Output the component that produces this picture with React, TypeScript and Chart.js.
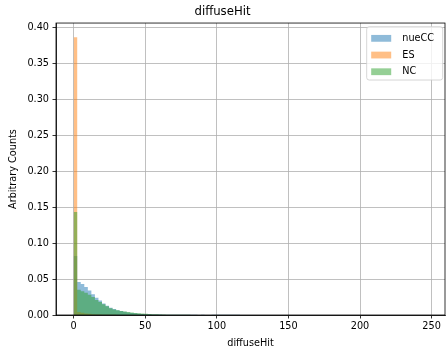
import React, { useEffect, useRef } from "react";
import { Chart, registerables } from "chart.js";

Chart.register(...registerables);

// Histogram of diffuseHit, normalised per sample (density), 2.47-wide bins from 0.
const chartTitle = "diffuseHit";
const xLabel = "diffuseHit";
const yLabel = "Arbitrary Counts";
const seriesNames = ["nueCC", "ES", "NC"];
const binStart = 0;
const binWidth = 2.47;

const nueCC = [
  0.082, 0.046, 0.043, 0.039, 0.034, 0.029, 0.024, 0.02, 0.016, 0.013,
  0.0102, 0.0082, 0.0066, 0.0054, 0.0044, 0.0036, 0.0029, 0.0024, 0.0019, 0.0015,
  0.0012, 0.001, 0.0008, 0.0007, 0.0006, 0.0005, 0.0004, 0.0004, 0.0003, 0.0003,
  0.0003, 0.0002, 0.0002, 0.0002, 0.0002, 0.0001, 0.0002, 0.0001, 0.0001, 0.0002,
  0.0003, 0.0002, 0.0003, 0.0002, 0.0003, 0.0002, 0.0002, 0.0001, 0.0001, 0.0001,
];
const es = [
  0.386, 0.004, 0.003, 0.0022, 0.0016, 0.0012, 0.0008, 0.0006, 0.0004, 0.0003,
  0.0002, 0.0002, 0.0001,
];
const nc = [
  0.143, 0.035, 0.033, 0.031, 0.028, 0.025, 0.021, 0.018, 0.015, 0.012,
  0.0095, 0.0078, 0.0065, 0.0055, 0.0047, 0.004, 0.0034, 0.0029, 0.0025, 0.0021,
  0.0017, 0.0014, 0.0011, 0.0009, 0.0007, 0.0006, 0.0005, 0.0004, 0.0003, 0.0003,
  0.0002, 0.0002, 0.0002, 0.0001, 0.0001, 0.0001, 0.0001, 0.0001,
];

const xTicks = [0, 50, 100, 150, 200, 250];
const yTicks = [0, 0.05, 0.1, 0.15, 0.2, 0.25, 0.3, 0.35, 0.4];

const colors = [
  "rgba(31,119,180,0.5)",
  "rgba(255,127,14,0.5)",
  "rgba(44,160,44,0.5)",
];

const FONT = "'DejaVu Sans', sans-serif";

// Each histogram is a filled step outline: one point per left bin edge,
// plus the closing right edge back at zero.
const toStepPoints = (vals: number[]) => {
  const pts = vals.map((v, i) => ({ x: binStart + i * binWidth, y: v }));
  pts.push({ x: binStart + vals.length * binWidth, y: 0 });
  return pts;
};

// Frame (all four spines) plus a matplotlib-style legend box.
const framePlugin = {
  id: "frameAndLegend",
  afterDraw(chart: any) {
    const { ctx, chartArea } = chart;
    const { left, right, top, bottom } = chartArea;
    ctx.save();
    ctx.strokeStyle = "#000";
    ctx.lineWidth = 0.8;
    ctx.strokeRect(left, top, right - left, bottom - top);

    // legend
    const bx = right - 78.3;
    const by = top + 3.7;
    const bw = 76;
    const bh = 53.3;
    const r = 2.5;
    ctx.beginPath();
    ctx.moveTo(bx + r, by);
    ctx.lineTo(bx + bw - r, by);
    ctx.arcTo(bx + bw, by, bx + bw, by + r, r);
    ctx.lineTo(bx + bw, by + bh - r);
    ctx.arcTo(bx + bw, by + bh, bx + bw - r, by + bh, r);
    ctx.lineTo(bx + r, by + bh);
    ctx.arcTo(bx, by + bh, bx, by + bh - r, r);
    ctx.lineTo(bx, by + r);
    ctx.arcTo(bx, by, bx + r, by, r);
    ctx.closePath();
    ctx.fillStyle = "rgba(255,255,255,0.8)";
    ctx.fill();
    ctx.strokeStyle = "#cccccc";
    ctx.lineWidth = 0.8;
    ctx.stroke();

    ctx.font = `9.7px ${FONT}`;
    ctx.textBaseline = "middle";
    ctx.textAlign = "left";
    seriesNames.forEach((name, i) => {
      const cy = by + 11.6 + i * 16.7;
      ctx.fillStyle = colors[i];
      ctx.fillRect(bx + 4.5, cy - 3.4, 20, 6.8);
      ctx.fillStyle = "#000";
      ctx.fillText(name, bx + 35.6, cy);
    });
    ctx.restore();
  },
};

export default function App() {
  const canvasRef = useRef<HTMLCanvasElement | null>(null);

  useEffect(() => {
    const canvas = canvasRef.current;
    if (!canvas) return;
    const seriesData = [nueCC, es, nc];
    const chart = new Chart(canvas, {
      type: "line",
      data: {
        datasets: seriesNames.map((name, i) => ({
          label: name,
          data: toStepPoints(seriesData[i]),
          backgroundColor: colors[i],
          borderColor: "rgba(0,0,0,0)",
          borderWidth: 0,
          pointRadius: 0,
          stepped: "before",
          fill: "origin",
          order: 3 - i,
        })),
      } as any,
      options: {
        responsive: false,
        animation: false,
        devicePixelRatio: 1,
        layout: { padding: { left: 0, right: 2, top: 0, bottom: 0 } },
        plugins: {
          legend: { display: false },
          tooltip: { enabled: false },
          title: {
            display: true,
            text: chartTitle,
            color: "#000",
            font: { family: FONT, size: 11.7, weight: "normal" },
            padding: { top: 5, bottom: 4 },
          },
        },
        scales: {
          x: {
            type: "linear",
            min: -12.35,
            max: 259.35,
            offset: false,
            afterBuildTicks: (s: any) => {
              s.ticks = xTicks.map((v) => ({ value: v }));
            },
            afterFit: (s: any) => {
              s.height = 36;
            },
            ticks: {
              color: "#000",
              font: { family: FONT, size: 9.7 },
              padding: 2,
              maxRotation: 0,
              autoSkip: false,
              callback: (v: any) => String(v),
            },
            grid: {
              offset: false,
              color: "#b0b0b0",
              lineWidth: 0.8,
              tickColor: "#000",
              tickLength: 3.5,
              drawTicks: true,
            },
            border: { display: true, color: "#000", width: 0.8 },
            title: {
              display: true,
              text: xLabel,
              color: "#000",
              font: { family: FONT, size: 9.7 },
              padding: { top: 0, bottom: 2 },
            },
          },
          y: {
            type: "linear",
            min: 0,
            max: 0.4056,
            afterBuildTicks: (s: any) => {
              s.ticks = yTicks.map((v) => ({ value: v }));
            },
            afterFit: (s: any) => {
              s.width = 56;
            },
            ticks: {
              color: "#000",
              font: { family: FONT, size: 9.7 },
              padding: 3.5,
              autoSkip: false,
              callback: (v: any) => Number(v).toFixed(2),
            },
            grid: {
              color: "#b0b0b0",
              lineWidth: 0.8,
              tickColor: "#000",
              tickLength: 3.5,
              drawTicks: true,
            },
            border: { display: true, color: "#000", width: 0.8 },
            title: {
              display: true,
              text: yLabel,
              color: "#000",
              font: { family: FONT, size: 9.7 },
              padding: { top: 7.7, bottom: 0 },
            },
          },
        },
      } as any,
      plugins: [framePlugin],
    });
    return () => chart.destroy();
  }, []);

  return (
    <div
      style={{
        position: "fixed",
        left: 0,
        top: 0,
        width: 447,
        height: 351,
        background: "#fff",
      }}
    >
      <canvas
        ref={canvasRef}
        width={447}
        height={351}
        style={{ display: "block", width: 447, height: 351 }}
      />
    </div>
  );
}
